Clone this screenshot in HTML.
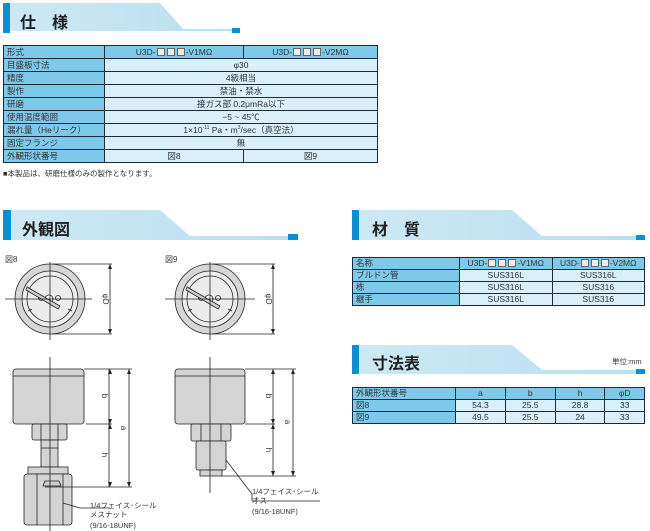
<!DOCTYPE html>
<html><head><meta charset="utf-8"><style>
body{margin:0;width:650px;height:531px;background:#fff;position:relative;overflow:hidden;font-family:"Liberation Sans","Noto Sans CJK JP",sans-serif;color:#222}
.a{position:absolute}
table{position:absolute;border-collapse:collapse;font-size:8.5px;color:#333}
td{border:1px solid #1c2b38;padding:0 3px;height:11px;line-height:11px;text-align:center;background:#d9eff9;white-space:nowrap}
table.s td{height:12px;line-height:12px}
td.l{text-align:left;background:#7ec8ea}
tr.h td{background:#7ec8ea}
.t{font-weight:bold;font-size:16px;color:#222}
.sq{display:inline-block;width:6px;height:6px;border:1px solid #666;vertical-align:-1px;margin:0 1px;background:#eee}
</style></head><body>
<svg class="a" style="left:0;top:0" width="650" height="531" font-family="Liberation Sans, Noto Sans CJK JP, sans-serif">
<defs><linearGradient id="g" x1="0" x2="1"><stop offset="0" stop-color="#cde9f5"/><stop offset="1" stop-color="#b8def1"/></linearGradient></defs>
<path d="M3 3H160L183 29H240V31H3Z" fill="url(#g)"/><rect x="3" y="3" width="7" height="30" fill="#0a8fd6"/><rect x="232" y="28" width="8" height="5" fill="#0a8fd6"/>
<path d="M3 210H160L190 236H298V240H3Z" fill="url(#g)"/><rect x="3" y="210" width="8" height="30" fill="#0a8fd6"/><rect x="288" y="234" width="10" height="6" fill="#0a8fd6"/>
<path d="M352 210H512L542 236H645V240H352Z" fill="url(#g)"/><rect x="352" y="210" width="7" height="30" fill="#0a8fd6"/><rect x="636" y="235" width="9" height="5" fill="#0a8fd6"/>
<path d="M352 345H512L542 370H645V374H352Z" fill="url(#g)"/><rect x="352" y="345" width="7" height="29" fill="#0a8fd6"/><rect x="636" y="369" width="9" height="5" fill="#0a8fd6"/>
<g stroke="#222" stroke-width="0.8" fill="none">
<circle cx="50" cy="299" r="35" fill="#d6d6d6"/><circle cx="50" cy="299" r="28" fill="#ececec"/><circle cx="50" cy="299" r="23"/>
<path d="M28 311L32 309M72 311L68 309"/>
<circle cx="49" cy="299" r="4" fill="#fff"/><circle cx="41" cy="298" r="2.5"/><circle cx="58" cy="298" r="2.5"/>
<path d="M27 287L60 306L58 309L26 290Z" fill="#ccc"/>
<path d="M5 299H92M50 262V340"/>
<path d="M52 264H112M52 334H112M110 264V334"/>
<circle cx="210" cy="299" r="35" fill="#d6d6d6"/><circle cx="210" cy="299" r="28" fill="#ececec"/><circle cx="210" cy="299" r="23"/>
<path d="M188 311L192 309M232 311L228 309"/>
<circle cx="209" cy="299" r="4" fill="#fff"/><circle cx="201" cy="298" r="2.5"/><circle cx="218" cy="298" r="2.5"/>
<path d="M187 287L220 306L218 309L186 290Z" fill="#ccc"/>
<path d="M165 299H255M210 262V340"/>
<path d="M212 264H275M212 334H275M273 264V334"/>
<rect x="13" y="369" width="71" height="55" rx="3" fill="#d4d4d4"/><path d="M13 376H84"/>
<rect x="32" y="424" width="35" height="16" rx="2" fill="#d4d4d4"/><path d="M41 424V440M58 424V440"/>
<rect x="41" y="440" width="17" height="27" fill="#d4d4d4"/><path d="M41 448H58"/>
<rect x="28" y="467" width="40" height="7" fill="#d4d4d4"/>
<rect x="24" y="474" width="48" height="51" rx="3" fill="#d4d4d4"/><path d="M37 474V525M63 474V525"/>
<path d="M43 486H61L59 481H45Z" fill="#ccc"/>
<path d="M50 357V531"/>
<path d="M84 369H132M86 424H112M45 487H132M109 369V487M129 369V487"/>
<path d="M63 503L80 508H110"/>
<rect x="175" y="369" width="70" height="55" rx="3" fill="#d4d4d4"/><path d="M175 376H245"/>
<rect x="191" y="424" width="40" height="17" rx="2" fill="#d4d4d4"/><path d="M201 424V441M221 424V441"/>
<rect x="196" y="441" width="30" height="29" rx="2" fill="#d4d4d4"/>
<rect x="200" y="470" width="22" height="6" fill="#d4d4d4"/>
<path d="M210 357V493"/>
<path d="M245 369H296M245 424H275M222 476H296M273 369V476M293 369V476"/>
<path d="M226 460L252 494V501H320"/>
</g>
<g fill="#222" stroke="none">
<path d="M110 369l-2 5h4zM110 424l-2-5h4zM110 424l-2 5h4zM110 487l-2-5h4zM129 369l-2 5h4zM129 487l-2-5h4zM110 264l-2 5h4zM110 334l-2-5h4zM273 264l-2 5h4zM273 334l-2-5h4zM273 369l-2 5h4zM273 424l-2-5h4zM273 424l-2 5h4zM273 476l-2-5h4zM293 369l-2 5h4zM293 476l-2-5h4z"/>
</g>
<g font-size="8" fill="#333">
<text x="5" y="262">図8</text><text x="165" y="262">図9</text>
<text transform="translate(103,299) rotate(90)" text-anchor="middle">φD</text>
<text transform="translate(266,299) rotate(90)" text-anchor="middle">φD</text>
<text transform="translate(102,396) rotate(90)" text-anchor="middle">b</text>
<text transform="translate(102,455) rotate(90)" text-anchor="middle">h</text>
<text transform="translate(121,428) rotate(90)" text-anchor="middle">a</text>
<text transform="translate(266,396) rotate(90)" text-anchor="middle">b</text>
<text transform="translate(266,450) rotate(90)" text-anchor="middle">h</text>
<text transform="translate(285,422) rotate(90)" text-anchor="middle">a</text>
<text x="90" y="508" font-size="7.5">1/4フェイス･シール</text>
<text x="90" y="517" font-size="7.5">メスナット</text>
<text x="90" y="528" font-size="7.5">(9/16-18UNF)</text>
<text x="252" y="494" font-size="7.5">1/4フェイス･シール</text>
<text x="252" y="503" font-size="7.5">オス</text>
<text x="252" y="514" font-size="7.5">(9/16-18UNF)</text>
<text x="612" y="364" font-size="7.5">単位:mm</text>
<text x="3" y="176" font-size="7.5">■本製品は、研磨仕様のみの製作となります。</text>
</g>
</svg>
<div class="a t" style="left:20px;top:9px">仕　様</div>
<div class="a t" style="left:22px;top:216px">外観図</div>
<div class="a t" style="left:372px;top:216px">材　質</div>
<div class="a t" style="left:372px;top:350px">寸法表</div>
<table class="s" style="left:3px;top:45px;width:375px">
<tr class="h"><td class="l" style="width:94px">形式</td><td>U3D-<span class="sq"></span><span class="sq"></span><span class="sq"></span>-V1MΩ</td><td>U3D-<span class="sq"></span><span class="sq"></span><span class="sq"></span>-V2MΩ</td></tr>
<tr><td class="l">目盛板寸法</td><td colspan="2">φ30</td></tr>
<tr><td class="l">精度</td><td colspan="2">4級相当</td></tr>
<tr><td class="l">製作</td><td colspan="2">禁油・禁水</td></tr>
<tr><td class="l">研磨</td><td colspan="2">接ガス部 0.2μmRa以下</td></tr>
<tr><td class="l">使用温度範囲</td><td colspan="2">−5 ~ 45℃</td></tr>
<tr><td class="l">漏れ量（Heリーク）</td><td colspan="2">1×10<sup style="font-size:5px;line-height:0">-11</sup> Pa・m<sup style="font-size:5px;line-height:0">3</sup>/sec（真空法）</td></tr>
<tr><td class="l">固定フランジ</td><td colspan="2">無</td></tr>
<tr><td class="l">外観形状番号</td><td style="width:132px">図8</td><td>図9</td></tr>
</table>
<table style="left:352px;top:257px;width:293px">
<tr class="h"><td class="l" style="width:100px">名称</td><td>U3D-<span class="sq"></span><span class="sq"></span><span class="sq"></span>-V1MΩ</td><td>U3D-<span class="sq"></span><span class="sq"></span><span class="sq"></span>-V2MΩ</td></tr>
<tr><td class="l">ブルドン管</td><td>SUS316L</td><td>SUS316L</td></tr>
<tr><td class="l">栋</td><td>SUS316L</td><td>SUS316</td></tr>
<tr><td class="l">継手</td><td>SUS316L</td><td>SUS316</td></tr>
</table>
<table style="left:352px;top:387px;width:293px">
<tr class="h"><td class="l" style="width:96px">外観形状番号</td><td>a</td><td>b</td><td>h</td><td>φD</td></tr>
<tr><td class="l">図8</td><td>54.3</td><td>25.5</td><td>28.8</td><td>33</td></tr>
<tr><td class="l">図9</td><td>49.5</td><td>25.5</td><td>24</td><td>33</td></tr>
</table>
</body></html>
